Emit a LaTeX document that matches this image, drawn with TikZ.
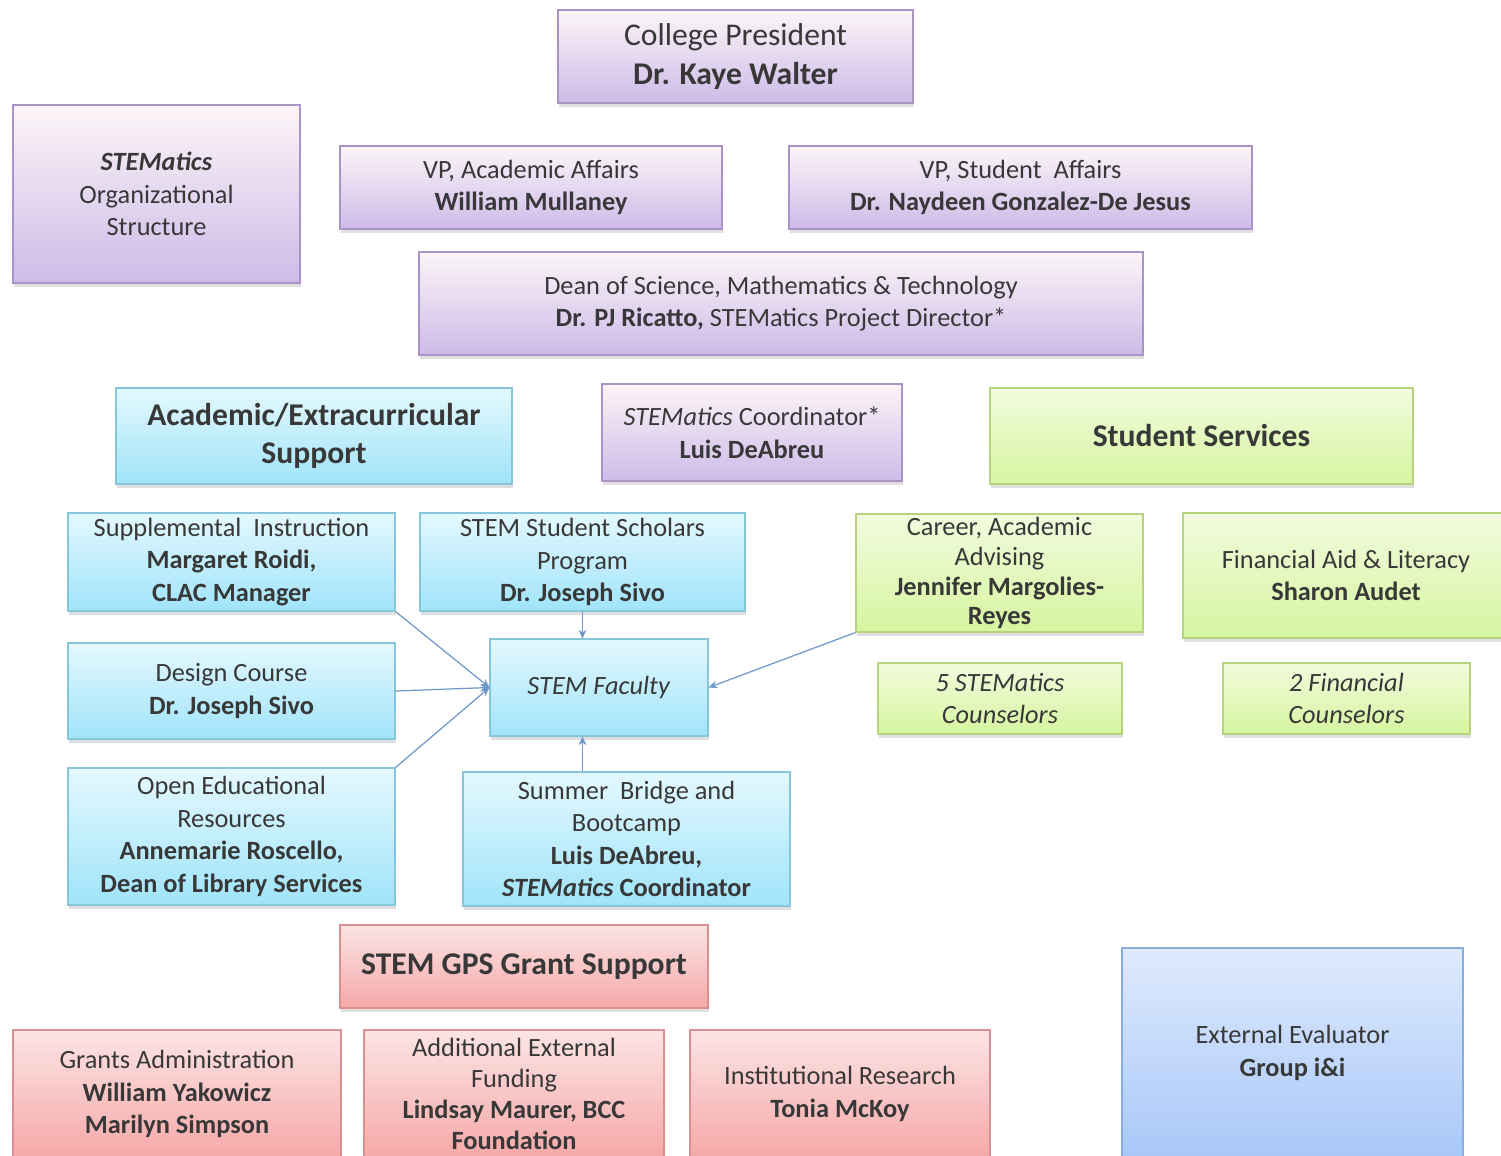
\documentclass[tikz,border=0pt]{standalone}
\usepackage{fontspec}
\setmainfont{Carlito}
\usetikzlibrary{arrows.meta, arrows, positioning, shadows}
\definecolor{linkblue}{HTML}{6F97C9}
\definecolor{purpleline}{HTML}{A994C7}
\definecolor{cyanline}{HTML}{86C6DA}
\definecolor{greenline}{HTML}{B7D37F}
\definecolor{redline}{HTML}{D99090}
\definecolor{blueline}{HTML}{8AAEDC}
\newcommand{\boxfont}{\fontsize{15}{18.5}\selectfont}
\newcommand{\headfont}{\fontsize{18}{22}\selectfont}
\tikzstyle{block}=[rectangle, draw, semithick, align=center,
    inner sep=0pt, text=black!78, font=\boxfont,
    drop shadow={shadow xshift=0.6pt, shadow yshift=-2pt, opacity=0.25}]
\tikzstyle{arrow} = [->,>={Stealth[length=5pt,width=4.5pt]}]

\begin{document}
\begin{tikzpicture}
      [x=0.02cm, y=-0.02cm,
      boxsize/.style 2 args={minimum width=#1*0.02cm, minimum height=#2*0.02cm},
      purplebox/.style={block, draw=purpleline, top color=purple!4!white, bottom color={rgb,255:red,205;green,187;blue,232}},
      cyanbox/.style={block, draw=cyanline, top color={rgb,255:red,228;green,248;blue,254}, bottom color={rgb,255:red,160;green,228;blue,250}},
      greenbox/.style={block, draw=greenline, top color={rgb,255:red,242;green,251;blue,222}, bottom color={rgb,255:red,214;green,245;blue,160}},
      redbox/.style={block, draw=redline, top color={rgb,255:red,252;green,228;blue,228}, bottom color={rgb,255:red,246;green,168;blue,168}},
      bluebox/.style={block, draw=blueline, top color={rgb,255:red,222;green,234;blue,253}, bottom color={rgb,255:red,168;green,200;blue,248}},
      line/.style={draw=linkblue, line width=0.7pt, arrow}]
    
      \useasboundingbox (0,0) rectangle (1501,1156);

      % administration
      \node [purplebox, boxsize={355}{93}, font=\headfont] (president) at (735.5,56.5)
        {College President\\\textbf{Dr. Kaye Walter}};
      \node [purplebox, boxsize={287}{178}] (title) at (156.5,194)
        {\textbf{\textit{STEMatics}}\\Organizational\\Structure};
      \node [purplebox, boxsize={382}{83}] (vpacad) at (531,187.5)
        {VP, Academic Affairs\\\textbf{William Mullaney}};
      \node [purplebox, boxsize={463}{83}] (vpstud) at (1020.5,187.5)
        {VP, Student\ \ Affairs\\\textbf{Dr. Naydeen Gonzalez-De Jesus}};
      \node [purplebox, boxsize={724}{103}] (dean) at (781,303.5)
        {Dean of Science, Mathematics \& Technology\\\textbf{Dr. PJ Ricatto,} STEMatics Project Director*};
      \node [purplebox, boxsize={300}{97}] (coord) at (752,432.5)
        {\textit{STEMatics} Coordinator*\\\textbf{Luis DeAbreu}};

      % academic support
      \node [cyanbox, boxsize={396}{96}, font=\headfont] (academic) at (314,436)
        {\textbf{Academic/Extracurricular}\\\textbf{Support}};
      \node [cyanbox, boxsize={327}{98}] (supplemental) at (231.5,562)
        {Supplemental\ \ Instruction\\\textbf{Margaret Roidi,}\\\textbf{CLAC Manager}};
      \node [cyanbox, boxsize={325}{98}] (scholars) at (582.5,562)
        {STEM\ Student\ Scholars\\Program\\\textbf{Dr. Joseph Sivo}};
      \node [cyanbox, boxsize={327}{96}] (design) at (231.5,691)
        {Design Course\\\textbf{Dr. Joseph Sivo}};
      \node [cyanbox, boxsize={218}{97}] (faculty) at (599,687.5)
        {\textit{STEM Faculty}};
      \node [cyanbox, boxsize={327}{137}] (oer) at (231.5,836.5)
        {Open Educational\\Resources\\\textbf{Annemarie Roscello,}\\\textbf{Dean of Library Services}};
      \node [cyanbox, boxsize={327}{134}] (summer) at (626.5,839)
        {Summer\ \ Bridge and\\Bootcamp\\\textbf{Luis DeAbreu,}\\\textbf{\textit{STEMatics} Coordinator}};

      % student services
      \node [greenbox, boxsize={423}{96}, font=\headfont] (services) at (1201.5,436)
        {\textbf{Student Services}};
      \node [greenbox, boxsize={287}{118}, font=\fontsize{15}{17}\selectfont] (career) at (999.5,573)
        {Career, Academic\\Advising\\\textbf{Jennifer Margolies-}\\\textbf{Reyes}};
      \node [greenbox, boxsize={326}{125}] (finaid) at (1346,575.5)
        {Financial Aid \& Literacy\\\textbf{Sharon Audet}};
      \node [greenbox, boxsize={244}{71}] (stemcouns) at (1000,698.5)
        {\textit{5 STEMatics}\\\textit{Counselors}};
      \node [greenbox, boxsize={247}{71}] (fincouns) at (1346.5,698.5)
        {\textit{2 Financial}\\\textit{Counselors}};

      % grant support
      \node [redbox, boxsize={368}{83}, font=\headfont] (grant) at (524,966.5)
        {\textbf{STEM GPS Grant Support}};
      \node [redbox, boxsize={328}{128}] (grantsadmin) at (177,1094)
        {Grants Administration\\\textbf{William Yakowicz}\\\textbf{Marilyn Simpson}};
      \node [redbox, boxsize={300}{128}, font=\fontsize{15}{17.5}\selectfont] (funding) at (514,1094)
        {Additional External\\Funding\\\textbf{Lindsay Maurer, BCC}\\\textbf{Foundation}};
      \node [redbox, boxsize={300}{128}] (research) at (840,1094)
        {Institutional Research\\\textbf{Tonia McKoy}};

      % evaluator
      \node [bluebox, boxsize={341}{210}] (evaluator) at (1292.5,1053)
        {External Evaluator\\\textbf{Group i\&i}};

      \begin{scope}[every path/.style=line]
        \path (supplemental.south east) -- (faculty.west);
        \path (design.east) -- (faculty.west);
        \path (oer.north east) -- (faculty.west);
        \path (scholars.south) -- (scholars.south |- faculty.north);
        \path (summer.north -| scholars.south) -- (scholars.south |- faculty.south);
        \path (career.south west) -- (faculty.east);
      \end{scope}
      
      \end{tikzpicture}
\end{document}
